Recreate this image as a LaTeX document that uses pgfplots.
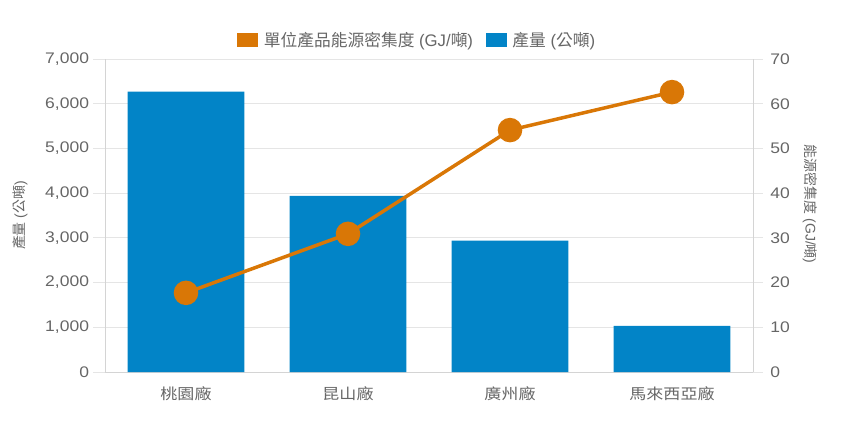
\documentclass[border=0pt]{standalone}
\usepackage{fontspec}
\setmainfont{Liberation Sans}
\newfontfamily\cjk{Noto Sans CJK TC}
\usepackage{pgfplots}
\usepackage{pgfplotstable}
\pgfplotsset{compat=1.18}

\definecolor{barblue}{HTML}{0284C7}
\definecolor{lineorange}{HTML}{D97706}
\definecolor{gridgray}{HTML}{E5E5E5}
\definecolor{axisgray}{HTML}{D4D4D4}
\definecolor{labelgray}{HTML}{666666}

% x: plant index, prod: output (t), dens: energy intensity (GJ/t)
\pgfplotstableread{
x prod dens
0 6270 17.7
1 3940 30.9
2 2940 54.1
3 1030 62.6
}\plants

\pgfplotsset{
  base/.style={
    width=648bp, height=313bp, scale only axis,
    at={(0,0)}, anchor=south west,
    xmin=-0.5, xmax=3.5,
    axis line style={axisgray, line width=0.8bp, -},
    tick align=outside,
    tick style={gridgray, line width=0.8bp},
    yticklabel style={font=\fontsize{15.4}{16}\selectfont, text=labelgray, xscale=1.14},
    /pgf/number format/1000 sep={,},
    /pgf/number format/assume math mode=true,
  },
  orangesq/.style={legend image code/.code={\fill[lineorange] (0bp,-6.5bp) rectangle (20bp,6.5bp); \path (24bp,0);}},
  bluesq/.style={legend image code/.code={\fill[barblue] (0bp,-6.5bp) rectangle (20bp,6.5bp); \path (24bp,0);}},
}

\begin{document}
\begin{tikzpicture}
\path[use as bounding box] (-105bp,-53bp) rectangle (736bp,372bp);

\begin{axis}[base,
  ybar, bar width=0.72,
  ymin=0, ymax=7000, ytick={0,1000,...,7000},
  ymajorgrids, grid style={gridgray, line width=0.8bp},
  axis x line*=bottom, axis y line*=left,
  major tick length=12bp,
  xtick=data, xticklabels={桃園廠,昆山廠,廣州廠,馬來西亞廠},
  xtick style={draw=none},
  xticklabel style={font=\cjk\fontsize{15}{16}\selectfont, text=labelgray, xscale=1.14, yshift=1bp},
  every axis y label/.style={at={(axis description cs:-0.131,0.5)}, anchor=center, rotate=90,
    font=\fontsize{14}{16}\selectfont, text=labelgray},
  ylabel={{\cjk 產量} ({\cjk 公噸})},
]
\addplot[fill=barblue, draw=none] table[x=x, y=prod] {\plants};
\end{axis}

\begin{axis}[base,
  ymin=0, ymax=70, ytick={0,10,...,70},
  axis x line=none, axis y line*=right,
  major tick length=10bp,
  clip=false,
  yticklabel style={anchor=west, xshift=3bp},
  every axis y label/.style={at={(axis description cs:1.088,0.536)}, anchor=center, rotate=-90,
    font=\fontsize{14}{16}\selectfont, text=labelgray},
  ylabel={{\cjk 能源密集度} (GJ/{\cjk 噸})},
  legend style={draw=none, fill=none, at={(axis description cs:0.482,1.061)}, anchor=center,
    legend columns=2, font=\fontsize{16.8}{18}\selectfont, text=labelgray,
    /tikz/every even column/.append style={column sep=11bp}},
]
\addplot[lineorange, line width=3.5bp, mark=*, mark size=10.5bp,
  mark options={fill=lineorange, draw=none}, forget plot] table[x=x, y=dens] {\plants};
\addlegendimage{orangesq}
\addlegendentry{{\cjk 單位產品能源密集度} (GJ/{\cjk 噸})}
\addlegendimage{bluesq}
\addlegendentry{{\cjk 產量} ({\cjk 公噸})}
\end{axis}
\end{tikzpicture}
\end{document}
